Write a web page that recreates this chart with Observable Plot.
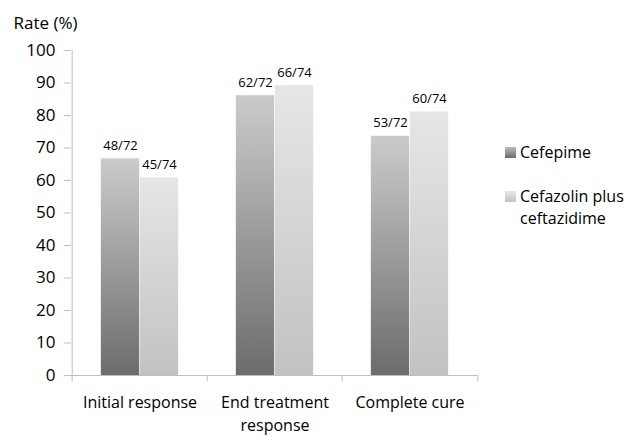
<!DOCTYPE html>
<html>
<head>
<meta charset="utf-8">
<script src="https://cdn.jsdelivr.net/npm/d3@7"></script>
<script src="https://cdn.jsdelivr.net/npm/@observablehq/plot@0.6"></script>
<style>
  html, body { margin: 0; padding: 0; background: #fff; }
  #chart { position: relative; width: 630px; height: 437px; font-family: "Open Sans", sans-serif; }
  #legend { position: absolute; left: 505px; top: 141px; font-size: 16px; color: #000; line-height: 22px; }
  .item { display: flex; align-items: flex-start; margin-bottom: 22px; }
  .swatch { width: 11px; height: 11px; margin: 6px 4px 0 0; flex: none; }
</style>
</head>
<body>
<div id="chart"><div id="legend"></div></div>
<script>
// Treatment outcome categories and the responders / patients in each arm
const categories = ["Initial response", "End treatment response", "Complete cure"];
const categoryLabels = ["Initial response", "End treatment\nresponse", "Complete cure"];
const seriesNames = ["Cefepime", "Cefazolin plus\nceftazidime"];
const cefepimeResponders = [48, 62, 53];
const cefepimeTotal = 72;
const cefazolinResponders = [45, 66, 60];
const cefazolinTotal = 74;
const yTicks = [0, 10, 20, 30, 40, 50, 60, 70, 80, 90, 100];

const rows = (responders, total, series) => categories.map((c, i) => ({
  category: c,
  series,
  value: responders[i] / total * 100,
  label: `${responders[i]}/${total}`
}));
const cefepime = rows(cefepimeResponders, cefepimeTotal, "Cefepime");
const cefazolin = rows(cefazolinResponders, cefazolinTotal, "Cefazolin plus ceftazidime");

const W = 630, H = 437;
const mLeft = 71, mRight = 152, mTop = 50, mBottom = 62;
const band = (W - mLeft - mRight) / categories.length;
const half = band / 2;
const barW = 39;
const axisGray = "#bfbfbf";

// vertical shading for the two series
const shades = () => {
  const defs = d3.create("svg:defs");
  const grad = (id, top, bottom) => {
    const g = defs.append("linearGradient").attr("id", id)
      .attr("x1", 0).attr("y1", 0).attr("x2", 0).attr("y2", 1);
    g.append("stop").attr("offset", "0%").attr("stop-color", top);
    g.append("stop").attr("offset", "100%").attr("stop-color", bottom);
  };
  grad("shadeCefepime", "#cbcbcb", "#6c6c6c");
  grad("shadeCefazolin", "#e6e6e6", "#c2c2c2");
  return defs.node();
};

const chart = Plot.plot({
  width: W,
  height: H,
  marginLeft: mLeft,
  marginRight: mRight,
  marginTop: mTop,
  marginBottom: mBottom,
  style: { fontFamily: "'Open Sans', sans-serif", color: "#000", background: "#fff" },
  x: { domain: categories, padding: 0, label: null },
  y: { domain: [0, 100], label: null },
  marks: [
    shades,
    Plot.barY(cefepime, {
      x: "category", y: "value", fill: "url(#shadeCefepime)",
      insetLeft: half - barW, insetRight: half
    }),
    Plot.barY(cefazolin, {
      x: "category", y: "value", fill: "url(#shadeCefazolin)",
      insetLeft: half, insetRight: half - barW
    }),
    Plot.text(cefepime, {
      x: "category", y: "value", text: "label", dx: -barW / 2, dy: -9,
      lineAnchor: "bottom", fontSize: 13, fill: "#000"
    }),
    Plot.text(cefazolin, {
      x: "category", y: "value", text: "label", dx: barW / 2, dy: -9,
      lineAnchor: "bottom", fontSize: 13, fill: "#000"
    }),
    // axis lines and category dividers
    Plot.ruleY([0], { stroke: axisGray }),
    Plot.ruleX([categories[0]], { x: d => d, dx: -half, y1: 0, y2: 100, stroke: axisGray }),
    Plot.ruleX(categories, { x: d => d, dx: -half, y1: 0, y2: -2, stroke: axisGray }),
    Plot.ruleX([categories[categories.length - 1]], { x: d => d, dx: half, y1: 0, y2: -2, stroke: axisGray }),
    Plot.axisY({
      ticks: yTicks, tickSize: 7, tickPadding: 9, fontSize: 17,
      stroke: axisGray, fill: "#000", label: null
    }),
    Plot.axisX({
      tickSize: 0, tickPadding: 17, fontSize: 16, fill: "#000", lineHeight: 1.4,
      tickFormat: d => categoryLabels[categories.indexOf(d)], label: null
    }),
    Plot.text(["Rate (%)"], {
      frameAnchor: "top-left", dx: -58, dy: -27, textAnchor: "start",
      lineAnchor: "middle", fontSize: 17, fill: "#000"
    })
  ]
});

const holder = document.getElementById("chart");
holder.insertBefore(chart, holder.firstChild);

// legend beside the plot
const swatchFills = [
  "linear-gradient(to bottom, #bdbdbd, #6c6c6c)",
  "linear-gradient(to bottom, #e8e8e8, #c2c2c2)"
];
const legend = d3.select("#legend");
seriesNames.forEach((name, i) => {
  const item = legend.append("div").attr("class", "item");
  item.append("div").attr("class", "swatch").style("background", swatchFills[i]);
  item.append("div").html(name.replace("\n", "<br>"));
});
</script>
</body>
</html>
